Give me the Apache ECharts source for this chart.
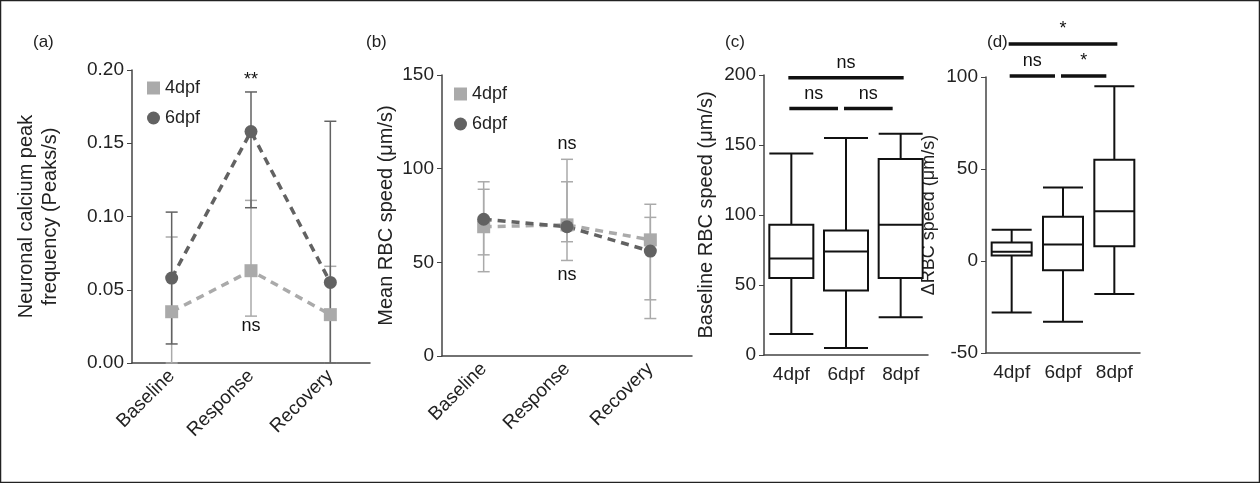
<!DOCTYPE html>
<html>
<head>
<meta charset="utf-8">
<script src="https://cdn.jsdelivr.net/npm/echarts@6/dist/echarts.min.js"></script>
</head>
<body style="margin:0;">
<div id="main" style="width:1260px;height:483px;"></div>
<script type="text/javascript">
    // panel a/b categories
    var phases = ['Baseline', 'Response', 'Recovery'];
    var ages = ['4dpf', '6dpf', '8dpf'];

    // (a) neuronal calcium peak frequency
    var aMean4 = [0.035, 0.063, 0.033];
    var aLow4 = [0, 0.032, 0];
    var aHigh4 = [0.086, 0.111, 0.066];
    var aMean6 = [0.058, 0.158, 0.055];
    var aLow6 = [0.013, 0.106, 0];
    var aHigh6 = [0.103, 0.185, 0.165];

    // (b) mean RBC speed
    var bMean4 = [69, 70, 62];
    var bLow4 = [54, 61, 20];
    var bHigh4 = [89, 93, 81];
    var bMean6 = [73, 69, 56];
    var bLow6 = [45, 51, 30];
    var bHigh6 = [93, 105, 74];

    // (c) baseline RBC speed boxes [min, q1, median, q3, max]
    var cBoxes = [[15, 55, 69, 93, 144], [5, 46, 74, 89, 155], [27, 55, 93, 140, 158]];
    // (d) delta RBC speed boxes
    var dBoxes = [[-28, 3, 5, 10, 17], [-33, -5, 9, 24, 40], [-18, 8, 27, 55, 95]];

    // significance bars [fromIdx, toIdx, y, text]
    var cSig = [[0, 2, 198, 'ns'], [0, 1, 176, 'ns'], [1, 2, 176, 'ns']];
    var dSig = [[0, 2, 118, '*'], [0, 1, 100.5, 'ns'], [1, 2, 100.5, '*']];
    // text annotations [catIdx, y, text]
    var aNotes = [[1, 0.193, '**'], [1, 0.025, 'ns']];
    var bNotes = [[1, 113, 'ns'], [1, 43, 'ns']];

    var light = '#aaaaaa', dark = '#626262';
    var font = 'Liberation Sans, Arial, sans-serif';

    function errorSeries(g, low, high, color) {
        return {
            type: 'custom', xAxisIndex: g, yAxisIndex: g, z: 1,
            data: low.map(function (v, i) { return [i, v, high[i]]; }),
            renderItem: function (params, api) {
                var p0 = api.coord([api.value(0), api.value(1)]);
                var p1 = api.coord([api.value(0), api.value(2)]);
                var st = {stroke: color, lineWidth: 1.5};
                return {type: 'group', children: [
                    {type: 'line', shape: {x1: p0[0], y1: p0[1], x2: p1[0], y2: p1[1]}, style: st},
                    {type: 'line', shape: {x1: p0[0] - 6, y1: p0[1], x2: p0[0] + 6, y2: p0[1]}, style: st},
                    {type: 'line', shape: {x1: p1[0] - 6, y1: p1[1], x2: p1[0] + 6, y2: p1[1]}, style: st}
                ]};
            }
        };
    }

    function lineSeries(g, name, data, color, symbol) {
        return {
            type: 'line', name: name, xAxisIndex: g, yAxisIndex: g, data: data, z: 3,
            symbol: symbol, symbolSize: 13, color: color,
            lineStyle: {type: [8, 6], width: 3.5, color: color},
            itemStyle: {color: color}
        };
    }

    function noteSeries(g, notes) {
        return {
            type: 'custom', xAxisIndex: g, yAxisIndex: g, data: notes, z: 4,
            renderItem: function (params, api) {
                var p = api.coord([api.value(0), api.value(1)]);
                return {type: 'text', x: p[0], y: p[1],
                    style: {text: notes[params.dataIndex][2], fontSize: 18, fontFamily: font,
                        fill: '#111', align: 'center', verticalAlign: 'middle'}};
            }
        };
    }

    function boxSeries(g, boxes, w) {
        return {
            type: 'boxplot', xAxisIndex: g, yAxisIndex: g, data: boxes, boxWidth: [w, w],
            itemStyle: {color: '#fff', borderColor: '#111', borderWidth: 2}
        };
    }

    function sigSeries(g, sig) {
        return {
            type: 'custom', xAxisIndex: g, yAxisIndex: g, data: sig, z: 4,
            renderItem: function (params, api) {
                var a = api.coord([api.value(0), api.value(2)]);
                var b = api.coord([api.value(1), api.value(2)]);
                var x1 = a[0] - 3, x2 = b[0] + 3;
                if (api.value(1) - api.value(0) === 1) {
                    x1 = a[0] - 2;
                    x2 = b[0] - 8;
                }
                return {type: 'group', children: [
                    {type: 'line', shape: {x1: x1, y1: a[1], x2: x2, y2: a[1]},
                        style: {stroke: '#111', lineWidth: 3.5}},
                    {type: 'text', x: (x1 + x2) / 2, y: a[1] - 6,
                        style: {text: sig[params.dataIndex][3], fontSize: 18, fontFamily: font,
                            fill: '#111', align: 'center', verticalAlign: 'bottom'}}
                ]};
            }
        };
    }

    var axisLine = {onZero: false, lineStyle: {color: '#444', width: 1.5}};
    var tickLbl = {fontSize: 19, color: '#222', fontFamily: font};

    var grids = [
        {left: 132, top: 70, width: 238, height: 293},
        {left: 442, top: 75, width: 250, height: 281},
        {left: 764, top: 75, width: 164, height: 280},
        {left: 986, top: 77, width: 154, height: 276}
    ];

    function xCat(g, data, rotate) {
        return {type: 'category', gridIndex: g, data: data, axisLine: axisLine,
            axisTick: {alignWithLabel: true, length: 5, lineStyle: {color: '#444'}},
            axisLabel: {fontSize: 19, color: '#222', fontFamily: font, rotate: rotate, margin: 10}};
    }
    function yVal(g, min, max, interval, name, fmt, gap, nameSize) {
        return {type: 'value', gridIndex: g, min: min, max: max, interval: interval,
            name: name, nameLocation: 'middle', nameGap: gap,
            nameTextStyle: {fontSize: nameSize || 20, color: '#222', fontFamily: font, lineHeight: 24},
            axisLine: {show: true, lineStyle: {color: '#444', width: 1.5}},
            axisTick: {show: true, length: 5, lineStyle: {color: '#444'}},
            splitLine: {show: false}, axisLabel: Object.assign({formatter: fmt}, tickLbl)};
    }

    var legendText = {fontSize: 18, color: '#222', fontFamily: font};
    var option = {
        animation: false,
        backgroundColor: '#fff',
        grid: grids,
        xAxis: [xCat(0, phases, 45), xCat(1, phases, 45), xCat(2, ages, 0), xCat(3, ages, 0)],
        yAxis: [
            yVal(0, 0, 0.2, 0.05, 'Neuronal calcium peak\nfrequency (Peaks/s)', function (v) { return v.toFixed(2); }, 70),
            yVal(1, 0, 150, 50, 'Mean RBC speed (μm/s)', null, 44),
            yVal(2, 0, 200, 50, 'Baseline RBC speed (μm/s)', null, 46),
            yVal(3, -50, 100, 50, 'ΔRBC speed (μm/s)', null, 45, 18)
        ],
        legend: [
            {data: [{name: '4dpf', icon: 'rect'}, {name: '6dpf', icon: 'circle'}], orient: 'vertical',
                left: 142, top: 74, itemWidth: 13, itemHeight: 13, itemGap: 12, textStyle: legendText},
            {data: [{name: '4dpf', icon: 'rect'}, {name: '6dpf', icon: 'circle'}], orient: 'vertical',
                left: 449, top: 80, itemWidth: 13, itemHeight: 13, itemGap: 12, textStyle: legendText}
        ],
        series: [
            errorSeries(0, aLow4, aHigh4, light), errorSeries(0, aLow6, aHigh6, dark),
            lineSeries(0, '4dpf', aMean4, light, 'rect'), lineSeries(0, '6dpf', aMean6, dark, 'circle'),
            noteSeries(0, aNotes),
            errorSeries(1, bLow6, bHigh6, light), errorSeries(1, bLow4, bHigh4, light),
            lineSeries(1, '4dpf', bMean4, light, 'rect'), lineSeries(1, '6dpf', bMean6, dark, 'circle'),
            noteSeries(1, bNotes),
            boxSeries(2, cBoxes, 44), sigSeries(2, cSig),
            boxSeries(3, dBoxes, 40), sigSeries(3, dSig)
        ],
        graphic: [
            {type: 'rect', shape: {x: 0.5, y: 0.5, width: 1259, height: 482}, style: {fill: 'none', stroke: '#222', lineWidth: 1.5}},
            {type: 'text', left: 33, top: 34, style: {text: '(a)', fontSize: 17, fontFamily: font, fill: '#222'}},
            {type: 'text', left: 366, top: 34, style: {text: '(b)', fontSize: 17, fontFamily: font, fill: '#222'}},
            {type: 'text', left: 725, top: 34, style: {text: '(c)', fontSize: 17, fontFamily: font, fill: '#222'}},
            {type: 'text', left: 987, top: 34, style: {text: '(d)', fontSize: 17, fontFamily: font, fill: '#222'}}
        ]
    };
    var myChart = echarts.init(document.getElementById('main'));
    myChart.setOption(option);
</script>
</body>
</html>
